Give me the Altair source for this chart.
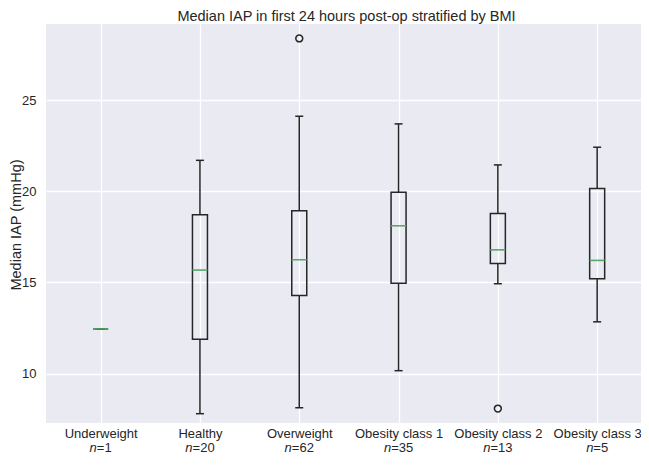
import altair as alt
import pandas as pd

# ---- data ----
categories = ["Underweight", "Healthy", "Overweight",
              "Obesity class 1", "Obesity class 2", "Obesity class 3"]
counts = [1, 20, 62, 35, 13, 5]
whisker_low = [12.45, 7.80, 8.13, 10.16, 14.93, 12.84]
q1 = [12.45, 11.89, 14.29, 14.96, 16.04, 15.20]
medians = [12.45, 15.68, 16.25, 18.11, 16.79, 16.21]
q3 = [12.45, 18.72, 18.94, 19.95, 18.79, 20.15]
whisker_high = [12.45, 21.70, 24.12, 23.70, 21.45, 22.42]
outlier_category = ["Overweight", "Obesity class 2"]
outlier_values = [28.39, 8.08]
y_ticks = [10, 15, 20, 25]

df = pd.DataFrame({
    "pos": list(range(1, len(categories) + 1)),
    "category": categories,
    "n": counts,
    "low": whisker_low,
    "q1": q1,
    "median": medians,
    "q3": q3,
    "high": whisker_high,
})
df["num"] = "=" + df["n"].astype(str)
out_df = pd.DataFrame({
    "pos": [categories.index(c) + 1 for c in outlier_category],
    "value": outlier_values,
})

W, H = 595, 399
FONT = "Liberation Sans"
TXT = "#262626"
LINE = "#262626"
GREEN = "#55A868"
TICK_FS = 13

xscale = alt.Scale(domain=[0.5, 0.5 + W / 101.0], nice=False, zero=False)
yscale = alt.Scale(domain=[7.29, 29.18], nice=False, zero=False)
label_expr = "[" + ",".join("'%s'" % c for c in categories) + "][datum.value - 1]"

x_axis = alt.Axis(values=list(range(1, len(categories) + 1)), labelExpr=label_expr,
                  labelPadding=10, labelBaseline="middle", labelFontSize=TICK_FS,
                  labelColor=TXT, labelFont=FONT,
                  ticks=False, domain=False, grid=True, gridColor="white",
                  gridWidth=1.3, labelOverlap=False)
y_axis = alt.Axis(values=y_ticks, labelPadding=10, labelFontSize=TICK_FS, labelColor=TXT,
                  labelFont=FONT, ticks=False, domain=False, grid=True,
                  gridColor="white", gridWidth=1.3, titleFontSize=14.5,
                  titleFontWeight="normal", titleColor=TXT, titleFont=FONT,
                  titleX=-30, titleY=H / 2 + 1, titleAngle=270, titleBaseline="middle",
                  titleAlign="center")
YT = "Median IAP (mmHg)"


def X():
    return alt.X("pos:Q", scale=xscale, axis=x_axis, title=None)


def Y(field):
    return alt.Y(field, scale=yscale, axis=y_axis, title=YT)


base = alt.Chart(df)

whisk_lo = base.mark_rule(color=LINE, strokeWidth=1.5).encode(
    x=X(), y=Y("low:Q"), y2="q1:Q")
whisk_hi = base.mark_rule(color=LINE, strokeWidth=1.5).encode(
    x=X(), y=Y("q3:Q"), y2="high:Q")
cap_lo = base.mark_tick(orient="horizontal", size=8, thickness=1.5, color=LINE,
                        opacity=1).encode(x=X(), y=Y("low:Q"))
cap_hi = base.mark_tick(orient="horizontal", size=8, thickness=1.5, color=LINE,
                        opacity=1).encode(x=X(), y=Y("high:Q"))
box = base.mark_bar(size=15, fill=None, fillOpacity=0, stroke=LINE,
                    strokeWidth=1.5).encode(x=X(), y=Y("q1:Q"), y2="q3:Q")
med = base.mark_tick(orient="horizontal", size=15, thickness=1.6, color=GREEN,
                     opacity=1).encode(x=X(), y=Y("median:Q"))
outl = alt.Chart(out_df).mark_point(shape="circle", size=48, filled=False,
                                    color=LINE, strokeWidth=1.5, opacity=1).encode(
    x=X(), y=Y("value:Q"))

line2_y = H + 25
one = base.transform_filter("datum.n < 10")
two = base.transform_filter("datum.n >= 10")
n1 = one.mark_text(text="n", fontStyle="italic", align="right", baseline="middle",
                   fontSize=TICK_FS, font=FONT, color=TXT, dx=-3.8).encode(
    x=X(), y=alt.value(line2_y))
v1 = one.mark_text(align="left", baseline="middle", fontSize=TICK_FS, font=FONT,
                   color=TXT, dx=-3.8).encode(x=X(), y=alt.value(line2_y), text="num:N")
n2 = two.mark_text(text="n", fontStyle="italic", align="right", baseline="middle",
                   fontSize=TICK_FS, font=FONT, color=TXT, dx=-7.4).encode(
    x=X(), y=alt.value(line2_y))
v2 = two.mark_text(align="left", baseline="middle", fontSize=TICK_FS, font=FONT,
                   color=TXT, dx=-7.4).encode(x=X(), y=alt.value(line2_y), text="num:N")

chart = alt.layer(whisk_lo, whisk_hi, cap_lo, cap_hi, box, med, outl,
                  n1, v1, n2, v2).properties(
    width=W, height=H,
    autosize=alt.AutoSizeParams(type="none"),
    padding={"left": 38, "top": 16, "right": 0, "bottom": 34},
    title=alt.TitleParams("Median IAP in first 24 hours post-op stratified by BMI",
                          fontSize=14.5, fontWeight="normal", color=TXT, font=FONT,
                          offset=0, anchor="middle", dx=3),
).configure_view(fill="#EAEAF2", stroke=None)

chart.save("out.html", embed_options={"renderer": "svg", "actions": False})
